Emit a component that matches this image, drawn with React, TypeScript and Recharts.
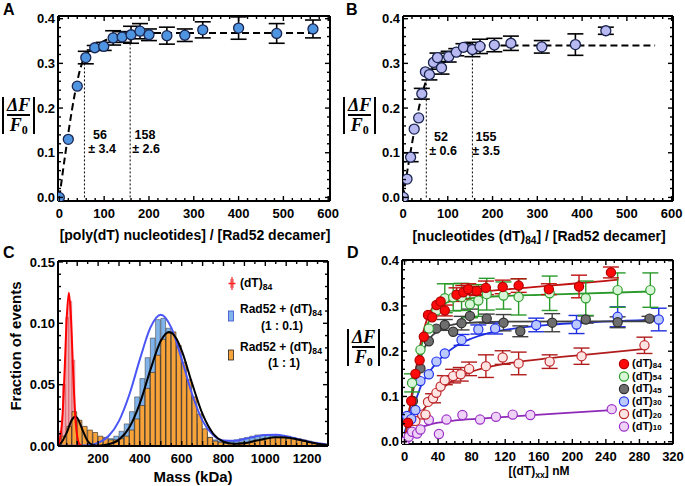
import React from 'react';
import { ComposedChart, Scatter, Line, Bar, XAxis, YAxis, ErrorBar } from 'recharts';

const W = 685;
const H = 486;
const FONT = '"Liberation Sans", Arial, Helvetica, sans-serif';
const SERIF = '"Liberation Serif", "Times New Roman", serif';

// ---------------- Panel A ----------------
const aX = [0, 20, 40, 59, 79, 99, 120, 140, 160, 180, 200, 240, 280, 320, 400, 485, 566];
const aY = [0, 0.13, 0.249, 0.313, 0.335, 0.338, 0.357, 0.359, 0.364, 0.372, 0.364, 0.362, 0.363, 0.375, 0.379, 0.367, 0.377];
const aErr = [0, 0, 0, 0.014, 0.005, 0.009, 0.016, 0.012, 0.019, 0.017, 0.013, 0.019, 0.014, 0.018, 0.025, 0.022, 0.02];
const aFitX = [0, 56, 80, 110, 158, 570];
const aFitY = [0, 0.314, 0.338, 0.355, 0.368, 0.368];
const aMarkX = [56, 158];
const aMarkTop = [0.314, 0.368];

// ---------------- Panel B ----------------
const bX = [1, 9, 17, 25, 35, 42, 50, 59, 68, 77, 86, 102, 119, 135, 155, 172, 204, 241, 310, 385, 453];
const bY = [0, 0.041, 0.09, 0.153, 0.178, 0.232, 0.281, 0.275, 0.302, 0.313, 0.29, 0.315, 0.325, 0.336, 0.331, 0.338, 0.341, 0.345, 0.337, 0.342, 0.373];
const bErr = [0, 0, 0.01, 0, 0, 0.012, 0, 0.012, 0, 0.01, 0.014, 0.012, 0.008, 0.008, 0.016, 0.016, 0.015, 0.016, 0.014, 0.024, 0.008];
const bFitX = [0, 52, 70, 100, 130, 155, 563];
const bFitY = [0, 0.262, 0.298, 0.322, 0.334, 0.34, 0.34];
const bMarkX = [52, 155];
const bMarkTop = [0.262, 0.338];

// ticks A/B
const abXTicks = [0, 20, 40, 60, 80, 100, 120, 140, 160, 180, 200, 220, 240, 260, 280, 300, 320, 340, 360, 380, 400, 420, 440, 460, 480, 500, 520, 540, 560, 580, 600];
const abXLabels = [0, 100, 200, 300, 400, 500, 600];
const abYTicks = [0, 0.02, 0.04, 0.06, 0.08, 0.1, 0.12, 0.14, 0.16, 0.18, 0.2, 0.22, 0.24, 0.26, 0.28, 0.3, 0.32, 0.34, 0.36, 0.38, 0.4];
const abYLabels = [0, 0.1, 0.2, 0.3, 0.4];

// ---------------- Panel C ----------------
const cBins = [12.5, 37.5, 62.5, 87.5, 112.5, 137.5, 162.5, 187.5, 212.5, 237.5, 262.5, 287.5, 312.5, 337.5, 362.5, 387.5, 412.5, 437.5, 462.5, 487.5, 512.5, 537.5, 562.5, 587.5, 612.5, 637.5, 662.5, 687.5, 712.5, 737.5, 762.5, 787.5, 812.5, 837.5, 862.5, 887.5, 912.5, 937.5, 962.5, 987.5, 1012.5, 1037.5, 1062.5, 1087.5, 1112.5, 1137.5, 1162.5, 1187.5, 1212.5, 1237.5, 1262.5, 1287.5];
const cOrange = [0.003, 0.008, 0.016, 0.028, 0.021, 0.016, 0.013, 0.011, 0.008, 0.007, 0.005, 0.005, 0.006, 0.008, 0.013, 0.022, 0.033, 0.047, 0.06, 0.074, 0.087, 0.092, 0.093, 0.082, 0.068, 0.054, 0.04, 0.026, 0.014, 0.007, 0.004, 0.003, 0.002, 0.002, 0.002, 0.003, 0.003, 0.004, 0.005, 0.005, 0.006, 0.007, 0.007, 0.007, 0.006, 0.006, 0.005, 0.004, 0.003, 0.002, 0.002, 0.001];
const cBlue = [0.001, 0.002, 0.003, 0.004, 0.004, 0.004, 0.004, 0.004, 0.004, 0.005, 0.006, 0.008, 0.012, 0.018, 0.028, 0.04, 0.055, 0.072, 0.088, 0.103, 0.104, 0.096, 0.085, 0.07, 0.058, 0.042, 0.03, 0.018, 0.011, 0.007, 0.005, 0.004, 0.004, 0.004, 0.005, 0.006, 0.007, 0.008, 0.009, 0.009, 0.009, 0.009, 0.009, 0.008, 0.008, 0.007, 0.006, 0.005, 0.004, 0.003, 0.002, 0.001];
const cRedBins = [22.5, 37.5, 52.5, 67.5, 82.5, 97.5, 112.5];
const cRed = [0.012, 0.05, 0.105, 0.118, 0.07, 0.02, 0.004];
const cRedFitX = [8, 20, 30, 40, 50, 60, 70, 80, 90, 100, 110, 125];
const cRedFitY = [0.0008, 0.0079, 0.026, 0.0626, 0.105, 0.125, 0.105, 0.0626, 0.026, 0.0079, 0.0016, 0.0001];
const cBlackFitX = [8, 25, 50, 75, 90, 100, 125, 150, 175, 200, 250, 300, 350, 400, 450, 500, 540, 575, 600, 650, 700, 750, 800, 850, 900, 950, 1000, 1050, 1100, 1150, 1200, 1250, 1300];
const cBlackFitY = [0.0009, 0.003, 0.011, 0.0215, 0.024, 0.0229, 0.0132, 0.0041, 0.0008, 0.0003, 0.0014, 0.0052, 0.0153, 0.0349, 0.062, 0.0858, 0.093, 0.0874, 0.0777, 0.0508, 0.0259, 0.0102, 0.0036, 0.0018, 0.0023, 0.004, 0.0059, 0.0071, 0.0069, 0.0055, 0.0036, 0.0019, 0.0008];
const cBlueFitX = [8, 100, 150, 200, 250, 300, 350, 400, 450, 500, 550, 600, 650, 700, 750, 800, 850, 900, 950, 1000, 1050, 1100, 1150, 1200, 1250, 1300];
const cBlueFitY = [0.0002, 0.0002, 0.0006, 0.0026, 0.0081, 0.0205, 0.0422, 0.0708, 0.0965, 0.107, 0.0965, 0.0708, 0.0422, 0.0205, 0.009, 0.0045, 0.0042, 0.0057, 0.0076, 0.009, 0.0091, 0.008, 0.006, 0.0039, 0.0022, 0.0011];
const cXTicks = [50, 100, 150, 200, 250, 300, 350, 400, 450, 500, 550, 600, 650, 700, 750, 800, 850, 900, 950, 1000, 1050, 1100, 1150, 1200, 1250, 1300];
const cXLabels = [200, 400, 600, 800, 1000, 1200];
const cYTicks = [0, 0.01, 0.02, 0.03, 0.04, 0.05, 0.06, 0.07, 0.08, 0.09, 0.1, 0.11, 0.12, 0.13, 0.14, 0.15];
const cYLabels = [0, 0.05, 0.1, 0.15];

// ---------------- Panel D ----------------
const d84X = [4, 8, 13, 18, 23, 28, 33, 38, 43, 48, 62, 70, 76, 86, 97, 117, 136, 172, 208, 246];
const d84Y = [0.042, 0.09, 0.15, 0.18, 0.232, 0.28, 0.275, 0.302, 0.31, 0.29, 0.325, 0.33, 0.337, 0.333, 0.34, 0.342, 0.345, 0.337, 0.343, 0.374];
const d84E = [0, 0, 0, 0, 0, 0, 0, 0, 0, 0.012, 0.015, 0.015, 0.012, 0.01, 0.015, 0.015, 0.015, 0.012, 0.025, 0.012];
const d54X = [9, 19, 29, 38, 48, 58, 68, 78, 88, 98, 118, 136, 173, 216, 254, 293];
const d54Y = [0.13, 0.203, 0.25, 0.29, 0.317, 0.319, 0.32, 0.304, 0.312, 0.326, 0.323, 0.32, 0.328, 0.317, 0.335, 0.335];
const d54E = [0.02, 0, 0, 0, 0.032, 0.03, 0.03, 0.03, 0.035, 0.035, 0.03, 0.04, 0.038, 0.038, 0.038, 0.038];
const d45X = [10, 19, 29, 38, 48, 58, 68, 78, 98, 118, 138, 176, 216, 254, 292];
const d45Y = [0.09, 0.162, 0.222, 0.25, 0.258, 0.243, 0.262, 0.278, 0.272, 0.263, 0.244, 0.263, 0.27, 0.264, 0.272];
const d45E = [0, 0, 0, 0, 0.012, 0, 0.015, 0.015, 0.01, 0.018, 0.012, 0.02, 0.008, 0.012, 0.005];
const d30X = [3, 8, 13, 19, 29, 38, 48, 68, 88, 108, 157, 205, 254, 303];
const d30Y = [0.057, 0.05, 0.07, 0.134, 0.149, 0.177, 0.195, 0.225, 0.248, 0.25, 0.258, 0.259, 0.276, 0.27];
const d30E = [0, 0, 0, 0, 0, 0, 0, 0.012, 0.01, 0.012, 0.015, 0.02, 0.022, 0.025];
const d20X = [9, 13, 21, 25, 28, 34, 38, 43, 48, 58, 67, 77, 97, 117, 136, 173, 211, 286];
const d20Y = [0.046, 0.046, 0.06, 0.06, 0.088, 0.096, 0.108, 0.122, 0.136, 0.145, 0.149, 0.161, 0.167, 0.186, 0.173, 0.177, 0.189, 0.213];
const d20E = [0, 0, 0, 0, 0, 0.01, 0, 0, 0.01, 0.015, 0.015, 0.015, 0.025, 0.015, 0.025, 0.015, 0.018, 0.018];
const d10X = [0, 5, 9, 15, 19, 29, 41, 50, 69, 90, 109, 129, 150, 247];
const d10Y = [0, 0.011, 0.022, 0.018, 0.027, 0.048, 0.017, 0.049, 0.059, 0.049, 0.055, 0.06, 0.059, 0.072];
const d10E = [0, 0, 0, 0, 0, 0, 0, 0, 0, 0, 0, 0, 0, 0];

const f84X = [0, 5, 10, 15, 20, 25, 30, 40, 50, 70, 100, 150, 200, 255];
const f84Y = [0, 0.06, 0.12, 0.175, 0.225, 0.26, 0.285, 0.31, 0.32, 0.327, 0.333, 0.341, 0.349, 0.358];
const f54X = [0, 5, 10, 15, 20, 25, 30, 40, 50, 70, 100, 170, 295];
const f54Y = [0, 0.06, 0.12, 0.17, 0.21, 0.245, 0.27, 0.295, 0.307, 0.315, 0.32, 0.325, 0.332];
const f45X = [0, 5, 10, 15, 20, 25, 30, 40, 50, 70, 100, 295];
const f45Y = [0, 0.06, 0.11, 0.155, 0.19, 0.212, 0.228, 0.245, 0.255, 0.262, 0.265, 0.266];
const f30X = [0, 5, 10, 15, 20, 30, 40, 50, 60, 80, 100, 130, 170, 220, 303];
const f30Y = [0.02, 0.05, 0.075, 0.1, 0.125, 0.155, 0.178, 0.196, 0.21, 0.228, 0.24, 0.25, 0.258, 0.264, 0.27];
const f20X = [5, 10, 20, 30, 40, 50, 60, 80, 100, 130, 170, 220, 287];
const f20Y = [0.035, 0.045, 0.065, 0.088, 0.108, 0.125, 0.138, 0.155, 0.165, 0.175, 0.184, 0.193, 0.205];
const f10X = [0, 5, 10, 20, 30, 40, 60, 90, 130, 180, 247];
const f10Y = [0, 0.012, 0.021, 0.032, 0.038, 0.042, 0.047, 0.051, 0.056, 0.062, 0.07];

const dXTicks = [0, 10, 20, 30, 40, 50, 60, 70, 80, 90, 100, 110, 120, 130, 140, 150, 160, 170, 180, 190, 200, 210, 220, 230, 240, 250, 260, 270, 280, 290, 300, 310, 320];
const dXLabels = [0, 40, 80, 120, 160, 200, 240, 280, 320];
const dNames = ['84', '54', '45', '30', '20', '10'];

// ---------------- geometry ----------------
type Geo = { l: number; t: number; r: number; b: number; xd: [number, number]; yd: [number, number] };
const gA: Geo = { l: 58, t: 16, r: 330, b: 201, xd: [-3, 604], yd: [-0.008, 0.406] };
const gB: Geo = { l: 403, t: 16, r: 673, b: 201, xd: [0, 603], yd: [-0.008, 0.406] };
const gC: Geo = { l: 58, t: 261, r: 328, b: 446, xd: [8, 1300], yd: [0, 0.1508] };
const gD: Geo = { l: 402, t: 260, r: 673, b: 444, xd: [-3, 320], yd: [-0.005, 0.4015] };

const zip = (xs: number[], ys: number[], es?: number[]) => xs.map((x, i) => ({ x, y: ys[i], e: es ? es[i] : 0 }));
const near = (v: number, arr: number[]) => arr.some((a) => Math.abs(a - v) < 1e-6);

type TickSpec = { ticks: number[]; major: number[]; labels: number[]; fmt: (v: number) => string; fs: number };

function tickFn(side: string, spec: TickSpec) {
  return (p: any) => {
    const x = Number(p.x);
    const y = Number(p.y);
    const v = p.payload.value;
    const len = near(v, spec.major) || near(v, spec.labels) ? 5 : 3;
    const st = { stroke: '#000', strokeWidth: 1.4 };
    const lab = (side === 'bottom' || side === 'left') && near(v, spec.labels) ? spec.fmt(v) : null;
    let ln;
    if (side === 'bottom') ln = <line x1={x} y1={y} x2={x} y2={y - len} {...st} />;
    else if (side === 'top') ln = <line x1={x} y1={y} x2={x} y2={y + len} {...st} />;
    else if (side === 'left') ln = <line x1={x} y1={y} x2={x + len} y2={y} {...st} />;
    else ln = <line x1={x} y1={y} x2={x - len} y2={y} {...st} />;
    const tp = { fontFamily: FONT, fontWeight: 700, fontSize: spec.fs, fill: '#000' };
    return (
      <g>
        {ln}
        {lab != null && side === 'bottom' && (
          <text x={x} y={y + spec.fs + 4} textAnchor="middle" {...tp}>{lab}</text>
        )}
        {lab != null && side === 'left' && (
          <text x={x - 3} y={y + spec.fs * 0.36} textAnchor="end" {...tp}>{lab}</text>
        )}
      </g>
    );
  };
}

function frameAxes(geo: Geo, xs: TickSpec, ys: TickSpec) {
  const common: any = {
    type: 'number',
    allowDataOverflow: true,
    tickLine: false,
    tickSize: 0,
    tickMargin: 0,
    interval: 0,
    axisLine: { stroke: '#000', strokeWidth: 2 },
  };
  return [
    <XAxis key="xb" xAxisId={0} dataKey="x" orientation="bottom" height={1} domain={geo.xd} ticks={xs.ticks} tick={tickFn('bottom', xs)} {...common} />,
    <XAxis key="xt" xAxisId="top" dataKey="x" orientation="top" height={1} domain={geo.xd} ticks={xs.ticks} tick={tickFn('top', xs)} {...common} />,
    <YAxis key="yl" yAxisId={0} orientation="left" width={1} domain={geo.yd} ticks={ys.ticks} tick={tickFn('left', ys)} {...common} />,
    <YAxis key="yr" yAxisId="right" orientation="right" width={1} domain={geo.yd} ticks={ys.ticks} tick={tickFn('right', ys)} {...common} />,
  ];
}

function hiddenAxes(geo: Geo, ids: (string | number)[], key: string) {
  return [
    ...ids.map((id) => (
      <XAxis key={'hx' + id} xAxisId={id} dataKey={key} type="number" domain={geo.xd} allowDataOverflow hide height={0} />
    )),
    <YAxis key="hy" yAxisId={0} type="number" domain={geo.yd} allowDataOverflow hide width={0} />,
  ];
}

function Layer({ geo, data, framed, children }: any) {
  const k = framed ? 1 : 0;
  return (
    <div style={{ position: 'absolute', left: 0, top: 0 }}>
      <ComposedChart
        width={W}
        height={H}
        data={data}
        margin={{ top: geo.t - k, left: geo.l - k, right: W - geo.r - k, bottom: H - geo.b - k }}
      >
        {children}
      </ComposedChart>
    </div>
  );
}

const dot = (r: number, fill: string, stroke: string, sw = 1.2) => (p: any) =>
  p.cx == null ? <g /> : <circle cx={p.cx} cy={p.cy} r={r} fill={fill} stroke={stroke} strokeWidth={sw} />;

function DeltaLabel({ left, top }: { left: number; top: number }) {
  const bar = <div style={{ width: 2, height: 37, background: '#000' }} />;
  return (
    <div style={{ position: 'absolute', left, top, height: 37, display: 'flex', alignItems: 'center' }}>
      {bar}
      <div
        style={{
          display: 'flex',
          flexDirection: 'column',
          alignItems: 'center',
          padding: '0 3px',
          fontFamily: SERIF,
          fontStyle: 'italic',
          fontWeight: 700,
          fontSize: 18,
          lineHeight: '16px',
          color: '#000',
        }}
      >
        <div>ΔF</div>
        <div style={{ height: 2, background: '#000', width: '100%', margin: '1px 0' }} />
        <div>
          F<span style={{ fontStyle: 'normal', fontSize: 12, position: 'relative', top: 3 }}>0</span>
        </div>
      </div>
      {bar}
    </div>
  );
}

const txt = (fs: number): React.CSSProperties => ({
  position: 'absolute',
  fontFamily: FONT,
  fontWeight: 700,
  fontSize: fs,
  color: '#000',
  whiteSpace: 'nowrap',
  lineHeight: 1,
});

function Centered({ x, y, fs, children }: any) {
  return (
    <div
      style={{
        ...txt(fs),
        left: x,
        top: y,
        transform: 'translate(-50%, -50%)',
      }}
    >
      {children}
    </div>
  );
}

const Sub = ({ children, shift = '0.3em' }: any) => (
  <span style={{ fontSize: '0.72em', position: 'relative', top: shift }}>{children}</span>
);

const fmt1 = (v: number) => v.toFixed(1);
const fmt2 = (v: number) => v.toFixed(2);
const fmt0 = (v: number) => String(v);

const TFS = 13;
const abXs: TickSpec = { ticks: abXTicks, major: abXLabels, labels: abXLabels, fmt: fmt0, fs: TFS };
const abYs: TickSpec = { ticks: abYTicks, major: abYLabels, labels: abYLabels, fmt: fmt1, fs: TFS };
const cXs: TickSpec = { ticks: cXTicks, major: [100, 300, 500, 700, 900, 1100, 1300], labels: cXLabels, fmt: fmt0, fs: TFS };
const cYs: TickSpec = { ticks: cYTicks, major: [], labels: cYLabels, fmt: fmt2, fs: TFS };
const dXs: TickSpec = { ticks: dXTicks, major: dXLabels, labels: dXLabels, fmt: fmt0, fs: TFS };
const dYs: TickSpec = { ticks: abYTicks, major: abYLabels, labels: abYLabels, fmt: fmt1, fs: TFS };

function TitrationPanel({ geo, xs, ys, errs, fitX, fitY, markX, markTop, fill }: any) {
  return (
    <Layer geo={geo} framed>
      {frameAxes(geo, abXs, abYs)}
      {markX.map((mx: number, i: number) => (
        <Line
          key={'m' + i}
          data={[{ x: mx, y: 0 }, { x: mx, y: markTop[i] }]}
          dataKey="y"
          type="linear"
          dot={false}
          stroke="#000"
          strokeWidth={1}
          strokeDasharray="2 2"
          isAnimationActive={false}
        />
      ))}
      <Line
        data={zip(fitX, fitY)}
        dataKey="y"
        type="monotone"
        dot={false}
        stroke="#000"
        strokeWidth={2}
        strokeDasharray="7 4"
        isAnimationActive={false}
      />
      <Scatter data={zip(xs, ys, errs)} dataKey="y" shape={dot(5, fill, '#1a2550', 1.3)} isAnimationActive={false}>
        <ErrorBar dataKey="e" direction="y" width={8} stroke="#000" strokeWidth={1.6} />
      </Scatter>
    </Layer>
  );
}

const dSeries = [
  { n: '10', xs: d10X, ys: d10Y, es: d10E, fx: f10X, fy: f10Y, fill: '#efd3f7', stroke: '#9b30c8', line: '#8e28b8' },
  { n: '20', xs: d20X, ys: d20Y, es: d20E, fx: f20X, fy: f20Y, fill: '#ffe4e4', stroke: '#c0282d', line: '#b01c1c' },
  { n: '30', xs: d30X, ys: d30Y, es: d30E, fx: f30X, fy: f30Y, fill: '#bcc9ff', stroke: '#2233ee', line: '#1f2fe0' },
  { n: '45', xs: d45X, ys: d45Y, es: d45E, fx: f45X, fy: f45Y, fill: '#6e6e6e', stroke: '#2e2e2e', line: '#404040' },
  { n: '54', xs: d54X, ys: d54Y, es: d54E, fx: f54X, fy: f54Y, fill: '#d8f5d8', stroke: '#2ca02c', line: '#2a9a2a' },
  { n: '84', xs: d84X, ys: d84Y, es: d84E, fx: f84X, fy: f84Y, fill: '#ff0a0a', stroke: '#b00000', line: '#c01010' },
];

const LEG_Y0 = 364;
const LEG_DY = 12.5;

export default function App() {
  const binRows = cBins.map((m, i) => ({ m, o: cOrange[i], b: cBlue[i] }));
  const redRows = cRedBins.map((m, i) => ({ m, v: cRed[i] }));
  const pxPerKDa = (gC.r - gC.l) / (gC.xd[1] - gC.xd[0]);
  return (
    <div style={{ position: 'absolute', left: 0, top: 0, width: W, height: H, background: '#fff', overflow: 'hidden' }}>
      {/* Panel A */}
      <TitrationPanel geo={gA} xs={aX} ys={aY} errs={aErr} fitX={aFitX} fitY={aFitY} markX={aMarkX} markTop={aMarkTop} fill="#4f94e0" />
      {/* Panel B */}
      <TitrationPanel geo={gB} xs={bX} ys={bY} errs={bErr} fitX={bFitX} fitY={bFitY} markX={bMarkX} markTop={bMarkTop} fill="#b9b9f2" />

      {/* Panel C */}
      <Layer geo={gC} data={redRows}>
        {hiddenAxes(gC, [0], 'm')}
        <Bar dataKey="v" barSize={15 * pxPerKDa} fill="rgba(232,120,128,0.6)" stroke="#d04050" strokeWidth={0.5} isAnimationActive={false} />
      </Layer>
      <Layer geo={gC} data={binRows}>
        {hiddenAxes(gC, ['b', 'o'], 'm')}
        <Bar xAxisId="b" dataKey="b" barSize={25 * pxPerKDa} fill="#7fb3ea" stroke="#333" strokeWidth={0.5} isAnimationActive={false} />
        <Bar xAxisId="o" dataKey="o" barSize={25 * pxPerKDa} fill="#f8a23a" stroke="#222" strokeWidth={0.6} isAnimationActive={false} />
      </Layer>
      <Layer geo={gC} framed>
        {frameAxes(gC, cXs, cYs)}
        <Line data={zip(cBlueFitX, cBlueFitY)} dataKey="y" type="monotone" dot={false} stroke="#4a55f5" strokeWidth={2} isAnimationActive={false} />
        <Line data={zip(cBlackFitX, cBlackFitY)} dataKey="y" type="monotone" dot={false} stroke="#000" strokeWidth={2} isAnimationActive={false} />
        <Line data={zip(cRedFitX, cRedFitY)} dataKey="y" type="monotone" dot={false} stroke="#ff0000" strokeWidth={2} isAnimationActive={false} />
      </Layer>

      {/* Panel D */}
      <Layer geo={gD} framed>
        {frameAxes(gD, dXs, dYs)}
        {dSeries.map((s) => (
          <Line key={'f' + s.n} data={zip(s.fx, s.fy)} dataKey="y" type="monotone" dot={false} stroke={s.line} strokeWidth={1.8} isAnimationActive={false} />
        ))}
        {dSeries.map((s) => (
          <Scatter key={'s' + s.n} data={zip(s.xs, s.ys, s.es)} dataKey="y" shape={dot(4.6, s.fill, s.stroke, 1.2)} isAnimationActive={false}>
            <ErrorBar dataKey="e" direction="y" width={8} stroke={s.line} strokeWidth={1.4} />
          </Scatter>
        ))}
      </Layer>

      {/* Panel letters */}
      <div style={{ ...txt(16), left: 3, top: 2 }}>A</div>
      <div style={{ ...txt(16), left: 346, top: 2 }}>B</div>
      <div style={{ ...txt(16), left: 3, top: 245 }}>C</div>
      <div style={{ ...txt(16), left: 347, top: 245 }}>D</div>

      {/* y labels */}
      <DeltaLabel left={2} top={97} />
      <DeltaLabel left={343} top={97} />
      <DeltaLabel left={347} top={329} />
      <Centered x={15} y={346} fs={15}>
        <div style={{ transform: 'rotate(-90deg)' }}>Fraction of events</div>
      </Centered>

      {/* x titles */}
      <Centered x={195} y={235} fs={14}>[poly(dT) nucleotides] / [Rad52 decamer]</Centered>
      <Centered x={539} y={236} fs={14}>
        [nucleotides (dT)<Sub>84</Sub>] / [Rad52 decamer]
      </Centered>
      <Centered x={193} y={476} fs={15}>Mass (kDa)</Centered>
      <Centered x={539} y={471} fs={12}>
        [(dT)<Sub>xx</Sub>] nM
      </Centered>

      {/* annotations A/B */}
      <Centered x={100} y={135} fs={12.5}>56</Centered>
      <Centered x={102} y={149} fs={12.5}>± 3.4</Centered>
      <Centered x={145} y={135} fs={12.5}>158</Centered>
      <Centered x={146} y={149} fs={12.5}>± 2.6</Centered>
      <Centered x={441} y={137} fs={12.5}>52</Centered>
      <Centered x={443} y={151} fs={12.5}>± 0.6</Centered>
      <Centered x={486} y={137} fs={12.5}>155</Centered>
      <Centered x={486} y={151} fs={12.5}>± 3.5</Centered>

      {/* Legend C and D markers */}
      <svg style={{ position: 'absolute', left: 0, top: 0 }} width={W} height={H}>
        <rect x={230} y={279} width={4} height={9} fill="rgba(232,120,128,0.7)" />
        <line x1={232} y1={277} x2={232} y2={290} stroke="#ff2020" strokeWidth={1.2} />
        <line x1={228.5} y1={283.5} x2={235.5} y2={283.5} stroke="#ff2020" strokeWidth={1.5} />
        <rect x={228.5} y={311} width={5} height={10} fill="#7fb3ea" stroke="#3a4ad0" strokeWidth={0.8} />
        <rect x={228.5} y={350} width={5} height={10} fill="#f8a23a" stroke="#222" strokeWidth={0.8} />
        {dSeries
          .slice()
          .reverse()
          .map((s, i) => (
            <circle key={s.n} cx={624} cy={LEG_Y0 + i * LEG_DY} r={4.6} fill={s.fill} stroke={s.stroke} strokeWidth={1.2} />
          ))}
      </svg>
      <div style={{ ...txt(12), left: 240, top: 277 }}>
        (dT)<Sub>84</Sub>
      </div>
      <div style={{ ...txt(12), left: 240, top: 303 }}>
        Rad52 + (dT)<Sub>84</Sub>
      </div>
      <div style={{ ...txt(12), left: 261, top: 320 }}>(1 : 0.1)</div>
      <div style={{ ...txt(12), left: 240, top: 341 }}>
        Rad52 + (dT)<Sub>84</Sub>
      </div>
      <div style={{ ...txt(12), left: 268, top: 357 }}>(1 : 1)</div>

      {/* Legend D */}
      {dNames.map((n, i) => (
        <div key={n} style={{ ...txt(11), left: 632, top: LEG_Y0 - 6 + i * LEG_DY }}>
          (dT)<Sub shift="0.12em">{n}</Sub>
        </div>
      ))}
    </div>
  );
}
